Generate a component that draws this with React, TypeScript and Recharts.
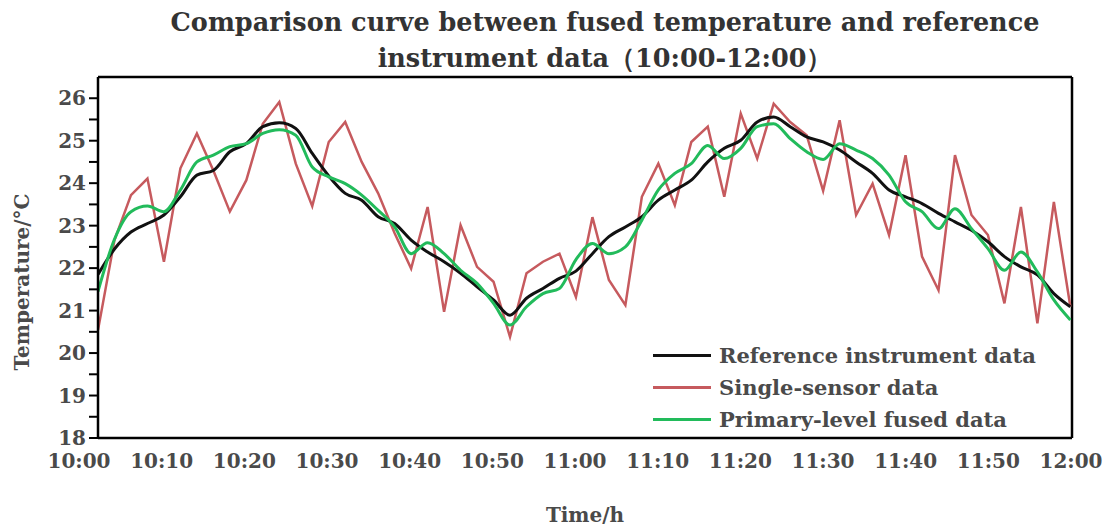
import { LineChart, Line, XAxis, YAxis, ReferenceLine } from 'recharts';

// sampling times, minutes after 10:00
const minutes = [
  0, 2, 4, 6, 8, 10, 12, 14, 16, 18, 20, 22, 24, 26, 28, 30, 32, 34, 36, 38,
  40, 42, 44, 46, 48, 50, 52, 54, 56, 58, 60, 62, 64, 66, 68, 70, 72, 74, 76, 78,
  80, 82, 84, 86, 88, 90, 92, 94, 96, 98, 100, 102, 104, 106, 108, 110, 112, 114, 116, 118,
];

const referenceData = [
  21.85, 22.45, 22.85, 23.05, 23.25, 23.68, 24.19, 24.3, 24.74, 24.93,
  25.33, 25.42, 25.29, 24.7, 24.17, 23.76, 23.6, 23.21, 23.05, 22.66,
  22.38, 22.15, 21.88, 21.56, 21.25, 20.89, 21.29, 21.52, 21.76, 21.93,
  22.34, 22.74, 22.97, 23.21, 23.6, 23.84, 24.07, 24.5, 24.82, 25.01,
  25.44, 25.56, 25.33, 25.09, 24.97, 24.78, 24.5, 24.23, 23.84, 23.68,
  23.52, 23.29, 23.09, 22.89, 22.62, 22.27, 22.03, 21.84, 21.4, 21.09,
];

const singleSensorData = [
  20.54, 22.66, 23.72, 24.11, 22.15, 24.35, 25.17, 24.3, 23.33, 24.07,
  25.4, 25.91, 24.46, 23.46, 24.97, 25.44, 24.5, 23.76, 22.82, 21.99,
  23.44, 20.97, 23.01, 22.03, 21.68, 20.38, 21.88, 22.15, 22.34, 21.32,
  23.2, 21.72, 21.13, 23.68, 24.46, 23.48, 24.97, 25.33, 23.68, 25.64,
  24.58, 25.87, 25.44, 25.13, 23.82, 25.48, 23.25, 23.99, 22.78, 24.66,
  22.27, 21.48, 24.66, 23.25, 22.78, 21.17, 23.44, 20.7, 23.56, 21.09,
];

const fusedData = [
  21.45, 22.68, 23.33, 23.46, 23.33, 23.84, 24.5, 24.66, 24.86, 24.93,
  25.17, 25.26, 25.13, 24.38, 24.15, 23.99, 23.72, 23.36, 22.97, 22.34,
  22.6, 22.34, 21.95, 21.64, 21.17, 20.66, 21.09, 21.4, 21.52, 22.2,
  22.58, 22.34, 22.5, 23.13, 23.84, 24.23, 24.46, 24.89, 24.58, 24.82,
  25.33, 25.4, 25.05, 24.74, 24.56, 24.93, 24.78, 24.58, 24.19, 23.56,
  23.33, 22.93, 23.4, 22.93, 22.46, 21.95, 22.38, 21.91, 21.25, 20.78,
];

const timeLabels = ['10:00', '10:10', '10:20', '10:30', '10:40', '10:50', '11:00', '11:10', '11:20', '11:30', '11:40', '11:50', '12:00'];
const labelTicks = [0, 10, 20, 30, 40, 50, 60, 70, 80, 90, 100, 110, 120];
const minorTicks = [0, 5, 10, 15, 20, 25, 30, 35, 40, 45, 50, 55, 60, 65, 70, 75, 80, 85, 90, 95, 100, 105, 110, 115];
const tempTicks = [18, 18.5, 19, 19.5, 20, 20.5, 21, 21.5, 22, 22.5, 23, 23.5, 24, 24.5, 25, 25.5, 26];

const seriesInfo = [
  { key: 'ref', name: 'Reference instrument data', color: '#111111' },
  { key: 'single', name: 'Single-sensor data', color: '#c65a5e' },
  { key: 'fused', name: 'Primary-level fused data', color: '#22bb5b' },
];

const rows = minutes.map((t, i) => ({
  t,
  ref: referenceData[i],
  single: singleSensorData[i],
  fused: fusedData[i],
}));

const FONT = '"DejaVu Serif", "Liberation Serif", serif';
const TEXT = '#4a4a4a';

export default function App() {
  const tickStyle = { fontFamily: FONT, fontWeight: 'bold', fontSize: 20, fill: TEXT };
  return (
    <div style={{ position: 'absolute', left: 0, top: 0, width: 1108, height: 529, background: '#fff' }}>
      <div
        style={{
          position: 'absolute', left: 105, top: 4, width: 1000, textAlign: 'center',
          fontFamily: FONT, fontWeight: 'bold', fontSize: 25.5, lineHeight: '36px', color: '#333',
        }}
      >
        Comparison curve between fused temperature and reference
        <br />
        instrument data（10:00-12:00）
      </div>

      <LineChart width={1108} height={529} data={rows} margin={{ top: 77, right: 36, left: 0, bottom: 50 }}>
        <XAxis
          xAxisId="data"
          dataKey="t"
          type="number"
          domain={[0, 118.2]}
          allowDataOverflow
          ticks={minorTicks}
          tick={false}
          tickSize={9}
          height={1}
          axisLine={{ stroke: '#000', strokeWidth: 2.5 }}
          tickLine={{ stroke: '#000', strokeWidth: 2 }}
        />
        <XAxis
          xAxisId="label"
          dataKey="t"
          type="number"
          domain={[0, 120]}
          allowDataOverflow
          ticks={labelTicks}
          padding={{ left: -19, right: 1 }}
          axisLine={false}
          tickLine={false}
          tickSize={0}
          tickMargin={15}
          height={40}
          tick={tickStyle}
          tickFormatter={(v: number) => timeLabels[labelTicks.indexOf(v)] ?? ''}
        />
        <YAxis
          type="number"
          domain={[18, 26.5]}
          allowDataOverflow
          ticks={tempTicks}
          interval={0}
          width={98}
          tickSize={9}
          tickMargin={3}
          axisLine={{ stroke: '#000', strokeWidth: 2.5 }}
          tickLine={{ stroke: '#000', strokeWidth: 2 }}
          tick={tickStyle}
          tickFormatter={(v: number) => (Number.isInteger(v) ? String(v) : '')}
        />
        <ReferenceLine xAxisId="data" y={26.5} stroke="#000" strokeWidth={2.5} />
        <ReferenceLine xAxisId="data" x={118.2} stroke="#000" strokeWidth={2.5} />

        <Line xAxisId="data" type="linear" dataKey="single" name={seriesInfo[1].name} stroke={seriesInfo[1].color} strokeWidth={2.5} dot={false} isAnimationActive={false} />
        <Line xAxisId="data" type="monotone" dataKey="ref" name={seriesInfo[0].name} stroke={seriesInfo[0].color} strokeWidth={3} dot={false} isAnimationActive={false} />
        <Line xAxisId="data" type="monotone" dataKey="fused" name={seriesInfo[2].name} stroke={seriesInfo[2].color} strokeWidth={3} dot={false} isAnimationActive={false} />
      </LineChart>

      {/* legend inside the plot, lower right */}
      <div style={{ position: 'absolute', left: 653, top: 339, fontFamily: FONT, fontWeight: 'bold', fontSize: 21, color: TEXT }}>
        {seriesInfo.map((s) => (
          <div key={s.key} style={{ display: 'flex', alignItems: 'center', height: 32 }}>
            <span style={{ display: 'inline-block', width: 58, height: 3, background: s.color, marginRight: 8 }} />
            {s.name}
          </div>
        ))}
      </div>

      <div
        style={{
          position: 'absolute', left: 22, top: 282, transform: 'translate(-50%, -50%) rotate(-90deg)',
          whiteSpace: 'nowrap', fontFamily: FONT, fontWeight: 'bold', fontSize: 20, color: TEXT,
        }}
      >
        Temperature/°C
      </div>
      <div
        style={{
          position: 'absolute', left: 585, top: 515, transform: 'translate(-50%, -50%)',
          whiteSpace: 'nowrap', fontFamily: FONT, fontWeight: 'bold', fontSize: 20, color: TEXT,
        }}
      >
        Time/h
      </div>
    </div>
  );
}
